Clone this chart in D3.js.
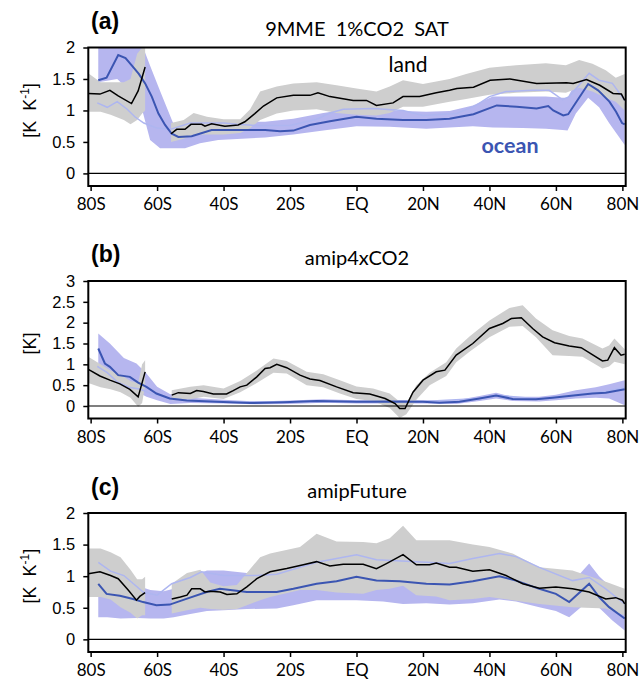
<!DOCTYPE html>
<html>
<head>
<meta charset="utf-8">
<script src="https://cdn.jsdelivr.net/npm/d3@7"></script>
<style>
  body { margin: 0; background: #fff; }
  svg text { fill: #000; }
</style>
</head>
<body>
<div id="chart"></div>
<script>
// latitude ticks
const latTicks = [-80, -60, -40, -20, 0, 20, 40, 60, 80];
const latLabels = ['80S', '60S', '40S', '20S', 'EQ', '20N', '40N', '60N', '80N'];

// ---- (a) 9MME 1%CO2 SAT  [lat, value] / [lat, lo, hi], null = gap
const landA = [[-80.7,1.27],[-77.2,1.26],[-74.2,1.32],[-71.7,1.23],[-67.7,1.11],[-65.7,1.31],[-63.6,1.69],null,
  [-55.8,0.63],[-54.1,0.70],[-51.6,0.70],[-49.8,0.78],[-46.6,0.78],[-45.6,0.75],[-43.6,0.79],[-39.6,0.75],[-35.6,0.77],
  [-33.6,0.82],[-30.6,0.95],[-28,1.07],[-24,1.20],[-19,1.24],[-14,1.24],[-11.6,1.28],[-8,1.22],[-1,1.16],[3,1.16],
  [6,1.08],[11,1.12],[14,1.22],[19,1.22],[24,1.28],[28,1.32],[30.2,1.35],[35.2,1.37],[40.2,1.48],[46.2,1.50],
  [54.2,1.43],[63.2,1.44],[65.2,1.43],[69.2,1.49],[73.2,1.40],[77.2,1.27],[79.7,1.26],[80.7,1.16]];
const landBandA = [[-80.7,0.98,1.59],[-77,0.98,1.45],[-74,0.93,1.45],[-70,0.85,1.45],[-68,0.78,1.5],[-66,0.85,1.9],
  [-64.5,0.95,2.0],[-63.6,1.0,2.0],null,
  [-55.8,0.50,0.80],[-52,0.55,0.85],[-49,0.62,0.96],[-45,0.62,0.90],[-40,0.62,0.86],[-35,0.64,0.86],[-32,0.72,1.02],
  [-29,0.85,1.30],[-24,0.95,1.38],[-19,1.0,1.43],[-12,1.02,1.45],[-6,0.96,1.40],[0,0.93,1.35],[6,0.92,1.30],
  [10,0.96,1.38],[14,1.06,1.48],[20,1.06,1.42],[28,1.14,1.50],[33,1.18,1.58],[40,1.25,1.68],[48,1.28,1.72],
  [57,1.30,1.75],[63,1.28,1.72],[67,1.36,1.80],[71,1.30,1.74],[75,1.20,1.64],[78,1.14,1.52],[80.7,1.0,1.58]];
const oceanA = [[-77.7,1.48],[-75.2,1.52],[-71.7,1.88],[-69.5,1.83],[-67.7,1.72],[-65.5,1.58],[-63.6,1.43],
  [-61.6,1.22],[-59.6,0.95],[-57.6,0.77],[-55.6,0.63],[-53.6,0.58],[-49.6,0.59],[-43.6,0.69],[-35.6,0.69],
  [-27.5,0.69],[-23,0.67],[-19,0.68],[-14,0.77],[-8,0.83],[0,0.90],[6,0.87],[14,0.85],[21,0.85],[28,0.87],
  [35.2,0.94],[42.2,1.08],[48.2,1.06],[54.2,1.03],[57.7,1.07],[59.2,1.0],[62.2,0.92],[63.7,0.94],[69.7,1.42],
  [72.7,1.32],[76.1,1.14],[78.1,0.98],[79.9,0.80],[80.7,0.78]];
const oceanBandA = [[-77.7,1.45,2.05],[-72,1.5,2.1],[-66,1.2,2.1],[-64.2,0.95,2.0],[-62.1,0.53,1.71],[-59.1,0.40,1.31],
  [-55.1,0.40,0.79],[-51.6,0.40,0.76],[-47.1,0.48,0.80],[-41.6,0.53,0.82],[-27.5,0.57,0.82],[-19,0.62,0.87],
  [-10,0.68,0.96],[0,0.75,1.04],[10,0.74,1.00],[21,0.71,0.98],[28,0.73,0.99],[35,0.75,1.08],[41,0.73,1.22],
  [50,0.72,1.22],[57,0.71,1.22],[62,0.69,1.20],[63.5,0.68,1.2],[66,0.95,1.45],[69.7,1.20,1.60],[73,1.05,1.5],
  [76,0.80,1.24],[80.7,0.45,1.11]];
const lightA = [[-78,1.12],[-75,1.05],[-72,1.14],[-69,1.02],[-66.7,0.90],[-64,0.80],[-60,0.72],[-56,0.70],
  [-50,0.80],[-45,0.80],[-40,0.80],[-36,0.78],[-30,0.76],[-20,0.76],[-12,0.86],[-8,0.96],[-4,1.02],[5,1.03],
  [14,1.0],[20,0.92],[30,0.95],[36,1.08],[40,1.22],[45,1.30],[53,1.32],[58,1.32],[62,1.17],[64,1.22],[70,1.59],
  [73,1.48],[77,1.43],[80.7,1.16]];

// ---- (b) amip4xCO2
const landB = [[-80.7,0.88],[-77.2,0.72],[-74.2,0.62],[-71.2,0.53],[-68.2,0.40],[-65.7,0.22],[-63.6,0.82],null,
  [-55.6,0.26],[-53.6,0.32],[-50,0.30],[-48.1,0.37],[-46.1,0.35],[-43.1,0.29],[-39.1,0.29],[-37.1,0.37],[-35,0.46],
  [-33,0.50],[-30,0.70],[-27.5,0.90],[-26,0.92],[-24,1.0],[-21,0.92],[-17,0.74],[-14,0.65],[-11,0.61],[-6,0.46],
  [-1,0.32],[4,0.29],[8.6,0.18],[11.6,0.06],[13,-0.06],[14.6,-0.06],[17,0.33],[20,0.62],[24,0.82],[26.6,0.86],
  [30,1.22],[35,1.50],[40,1.86],[44,1.98],[46.6,2.10],[49.6,2.12],[53,1.86],[56,1.66],[59.6,1.52],[64,1.44],
  [67.6,1.40],[74,1.08],[75.6,1.10],[77.6,1.40],[79.6,1.22],[80.7,1.24]];
const landBandB = [[-80.7,0.55,1.18],[-77,0.45,1.0],[-74,0.40,0.85],[-71,0.33,0.75],[-68,0.2,0.6],[-65.7,-0.02,0.55],
  [-64.5,0.07,1.0],[-63.6,0.5,1.1],null,
  [-55.6,0.14,0.38],[-50,0.16,0.46],[-46,0.22,0.50],[-40,0.17,0.42],[-35,0.33,0.60],[-30,0.55,0.85],[-25,0.80,1.14],
  [-21,0.78,1.08],[-15,0.5,0.82],[-10,0.45,0.76],[-5,0.3,0.62],[0,0.17,0.47],[5,0.12,0.42],[10,-0.05,0.3],
  [13,-0.29,0.10],[15,-0.2,0.08],[18,0.15,0.5],[22,0.5,0.8],[27,0.72,1.05],[30,1.05,1.38],[34,1.30,1.67],
  [40,1.65,2.05],[46,1.9,2.35],[50,1.92,2.42],[54,1.65,2.1],[59,1.22,1.82],[64,1.20,1.68],[68,1.18,1.62],
  [74,0.90,1.38],[76,0.95,1.45],[77.6,1.06,1.62],[80.7,1.0,1.36]];
const oceanB = [[-77.7,1.38],[-75.7,1.02],[-74.2,0.94],[-71.7,0.74],[-68.2,0.70],[-65.7,0.56],[-63.2,0.46],
  [-60.2,0.30],[-56.2,0.18],[-51.1,0.13],[-42.1,0.10],[-32,0.07],[-22,0.09],[-12,0.12],[0,0.10],[10,0.11],
  [20,0.10],[25,0.08],[31,0.10],[37,0.18],[42,0.25],[47,0.17],[54,0.16],[59,0.20],[66,0.26],[71,0.30],
  [75,0.32],[80.7,0.40]];
const oceanBandB = [[-77.7,0.9,1.74],[-74.2,0.65,1.5],[-70,0.45,1.15],[-66.2,0.35,1.02],[-63.2,0.22,0.78],
  [-60,0.14,0.46],[-56,0.05,0.28],[-50,0.07,0.2],[-40,0.06,0.15],[-30,0.04,0.11],[-20,0.05,0.13],[-10,0.08,0.16],
  [0,0.06,0.14],[20,0.06,0.14],[30,0.05,0.14],[37,0.12,0.24],[42,0.18,0.32],[47,0.12,0.22],[55,0.11,0.22],
  [60,0.14,0.27],[66,0.18,0.38],[72,0.2,0.45],[76,0.18,0.52],[80.7,0.02,0.62]];
const lightB = [[-78,0.95],[-75,0.80],[-72,0.58],[-68.5,0.45],[-65,0.40],[-62,0.30],[-56,0.18],[-50,0.13],
  [-40,0.10],[-20,0.10],[0,0.11],[20,0.11],[37,0.18],[42,0.26],[55,0.17],[66,0.27],[75,0.35],[80.7,0.45]];

// ---- (c) amipFuture
const landC = [[-80.7,1.04],[-77.2,1.07],[-74,1.01],[-71.7,0.96],[-68.7,0.78],[-66.2,0.62],[-65.2,0.68],[-63.6,0.74],null,
  [-55.6,0.64],[-53,0.67],[-51,0.70],[-49.6,0.80],[-47,0.80],[-45.6,0.75],[-44,0.76],[-41,0.75],[-39,0.71],[-36,0.72],
  [-33,0.83],[-30,0.96],[-26,1.07],[-21,1.12],[-16,1.18],[-12,1.23],[-8,1.16],[-4,1.19],[2,1.19],[6,1.12],[9,1.20],
  [14,1.34],[18,1.18],[22,1.18],[24,1.21],[28,1.14],[30,1.14],[35,1.08],[40,1.10],[45,1.01],[50,0.88],[55,0.81],
  [60,0.83],[65,0.80],[70,0.75],[75,0.64],[78,0.66],[80,0.62],[80.7,0.56]];
const landBandC = [[-80.7,0.67,1.44],[-77,0.67,1.44],[-74,0.63,1.38],[-71,0.51,1.30],[-68,0.42,1.1],[-66,0.33,0.95],
  [-64.5,0.38,0.95],[-63.6,0.38,0.99],null,
  [-55.6,0.41,0.88],[-51,0.46,1.05],[-47,0.50,1.10],[-44,0.48,0.90],[-40,0.47,0.84],[-36,0.48,0.86],[-33,0.54,1.05],
  [-29,0.62,1.30],[-26,0.67,1.36],[-17,0.78,1.46],[-12,0.78,1.67],[-6,0.74,1.55],[2,0.72,1.54],[6,0.78,1.52],
  [10,0.80,1.60],[14,0.85,1.80],[18,0.70,1.57],[24,0.68,1.57],[28,0.62,1.57],[35,0.64,1.50],[40,0.67,1.46],
  [47,0.62,1.36],[55,0.56,1.14],[65,0.51,1.09],[75,0.49,0.91],[80.7,0.38,0.80]];
const oceanC = [[-77.7,0.88],[-75.2,0.72],[-71.2,0.69],[-67.2,0.64],[-64.2,0.59],[-60.2,0.54],[-56.2,0.55],
  [-51.2,0.64],[-45.1,0.75],[-41.1,0.80],[-33,0.75],[-24,0.75],[-19,0.80],[-12,0.88],[-6,0.92],[0,0.99],[6,0.93],
  [13,0.92],[21,0.88],[28,0.87],[35,0.92],[43,1.00],[48,0.93],[55,0.80],[60,0.72],[64,0.59],[70,0.88],[73,0.67],
  [76,0.51],[80.7,0.33]];
const oceanBandC = [[-77.7,0.35,1.0],[-75,0.35,0.98],[-71,0.33,0.95],[-66,0.34,0.85],[-62,0.33,0.78],[-58,0.33,0.76],
  [-55,0.35,0.80],[-50,0.40,0.98],[-45,0.45,1.09],[-40,0.46,1.09],[-33,0.48,1.05],[-24,0.49,1.0],[-19,0.54,1.02],
  [-12,0.62,1.1],[0,0.62,1.2],[8,0.60,1.15],[14,0.56,1.1],[21,0.57,1.1],[28,0.55,1.1],[35,0.57,1.15],[43,0.63,1.25],
  [48,0.60,1.2],[55,0.51,1.05],[60,0.45,0.95],[64,0.35,0.85],[70,0.62,1.20],[73,0.5,1.0],[77,0.3,0.8],[80.7,0.14,0.6]];
const lightC = [[-77.7,1.22],[-74,1.08],[-70,1.01],[-64.2,0.75],[-60,0.70],[-55.6,0.88],[-50,0.98],[-46.6,1.07],
  [-40,1.01],[-30,1.01],[-24,1.03],[-12,1.22],[0,1.34],[6,1.26],[21,1.22],[28,1.20],[35,1.28],[43,1.36],[48,1.31],
  [55,1.14],[65,0.93],[70,0.98],[75,0.80],[80.7,0.56]];

const panels = [
  { tag: '(a)', title: '9MME  1%CO2  SAT', top: 47.5, bottom: 186, yDomain: [-0.2, 2],
    yTicks: [0, 0.5, 1, 1.5, 2], unit: 'KK', tagY: 29, titleY: 36,
    land: landA, landBand: landBandA, ocean: oceanA, oceanBand: oceanBandA, light: lightA },
  { tag: '(b)', title: 'amip4xCO2', top: 281, bottom: 418.5, yDomain: [-0.3, 3],
    yTicks: [0, 0.5, 1, 1.5, 2, 2.5, 3], unit: 'K', tagY: 262, titleY: 265,
    land: landB, landBand: landBandB, ocean: oceanB, oceanBand: oceanBandB, light: lightB },
  { tag: '(c)', title: 'amipFuture', top: 513, bottom: 652, yDomain: [-0.2, 2],
    yTicks: [0, 0.5, 1, 1.5, 2], unit: 'KK', tagY: 495, titleY: 498,
    land: landC, landBand: landBandC, ocean: oceanC, oceanBand: oceanBandC, light: lightC }
];

const width = 639, height = 680;
const left = 88.3, right = 625.7;
const titleFont = 'Lato, "Open Sans", sans-serif';
const numFont = '"Liberation Sans", Arial, sans-serif';

const svg = d3.select('#chart').append('svg')
  .attr('width', width)
  .attr('height', height);

const x = d3.scaleLinear().domain([-80.7, 81]).range([left, right]);

panels.forEach((p, i) => {
  const y = d3.scaleLinear().domain(p.yDomain).range([p.bottom, p.top]);
  const g = svg.append('g');

  const clipId = 'clip' + i;
  svg.append('clipPath').attr('id', clipId)
    .append('rect')
    .attr('x', left).attr('y', p.top)
    .attr('width', right - left).attr('height', p.bottom - p.top);

  const plot = g.append('g').attr('clip-path', 'url(#' + clipId + ')');

  const band = d3.area()
    .defined(d => d !== null)
    .x(d => x(d[0]))
    .y0(d => y(d[1]))
    .y1(d => y(d[2]));
  const line = d3.line()
    .defined(d => d !== null)
    .x(d => x(d[0]))
    .y(d => y(d[1]));

  // bands (ocean under land)
  plot.append('path').datum(p.oceanBand).attr('d', band).attr('fill', '#b6b6ef');
  plot.append('path').datum(p.landBand).attr('d', band).attr('fill', '#cecece');

  // zero line
  plot.append('line')
    .attr('x1', left).attr('x2', right)
    .attr('y1', y(0)).attr('y2', y(0))
    .attr('stroke', '#000').attr('stroke-width', 1.2);

  // lines
  plot.append('path').datum(p.light).attr('d', line)
    .attr('fill', 'none').attr('stroke', '#aeb6f0').attr('stroke-width', 1.5);
  plot.append('path').datum(p.ocean).attr('d', line)
    .attr('fill', 'none').attr('stroke', '#3b55b2').attr('stroke-width', 2);
  plot.append('path').datum(p.land).attr('d', line)
    .attr('fill', 'none').attr('stroke', '#000').attr('stroke-width', 1.5);

  // frame
  g.append('rect')
    .attr('x', left).attr('y', p.top)
    .attr('width', right - left).attr('height', p.bottom - p.top)
    .attr('fill', 'none').attr('stroke', '#000').attr('stroke-width', 2);

  // y axis
  const yAxis = g.append('g')
    .attr('transform', 'translate(' + left + ',0)')
    .call(d3.axisLeft(y).tickValues(p.yTicks).tickSize(5).tickPadding(8)
      .tickFormat(d => String(d)));
  yAxis.select('.domain').remove();
  yAxis.selectAll('line').attr('stroke-width', 1.5);
  yAxis.selectAll('text').attr('font-family', numFont).attr('font-size', 16.5);

  // x axis
  const xAxis = g.append('g')
    .attr('transform', 'translate(0,' + p.bottom + ')')
    .call(d3.axisBottom(x).tickValues(latTicks).tickSize(5).tickPadding(7)
      .tickFormat((d, k) => latLabels[k]));
  xAxis.select('.domain').remove();
  xAxis.selectAll('line').attr('stroke-width', 1.5);
  xAxis.selectAll('text').attr('font-family', titleFont).attr('font-size', 17);

  // panel tag + title
  g.append('text')
    .attr('x', 91).attr('y', p.tagY)
    .attr('font-family', numFont).attr('font-weight', 'bold').attr('font-size', 23)
    .text(p.tag);
  g.append('text')
    .attr('x', (left + right) / 2).attr('y', p.titleY)
    .attr('text-anchor', 'middle')
    .style('white-space', 'pre')
    .attr('font-family', titleFont).attr('font-size', 20)
    .text(p.title);

  // y label, centred on the positive part of the axis
  const yl = g.append('text')
    .attr('transform', 'translate(36,' + ((y(0) + p.top) / 2) + ') rotate(-90)')
    .attr('text-anchor', 'middle')
    .style('white-space', 'pre')
    .attr('font-family', numFont).attr('font-size', 18);
  if (p.unit === 'KK') {
    yl.append('tspan').text('[K  K');
    yl.append('tspan').attr('dy', -7).attr('font-size', 12).text('-1');
    yl.append('tspan').attr('dy', 7).text(']');
  } else {
    yl.text('[K]');
  }

  if (i === 0) {
    g.append('text')
      .attr('x', 408).attr('y', 72)
      .attr('text-anchor', 'middle')
      .attr('font-family', titleFont).attr('font-size', 21)
      .text('land');
    g.append('text')
      .attr('x', 510).attr('y', 153)
      .attr('text-anchor', 'middle')
      .attr('font-family', titleFont).attr('font-weight', 'bold').attr('font-size', 21.5)
      .style('fill', '#3b55b2')
      .text('ocean');
  }
});
</script>
</body>
</html>
